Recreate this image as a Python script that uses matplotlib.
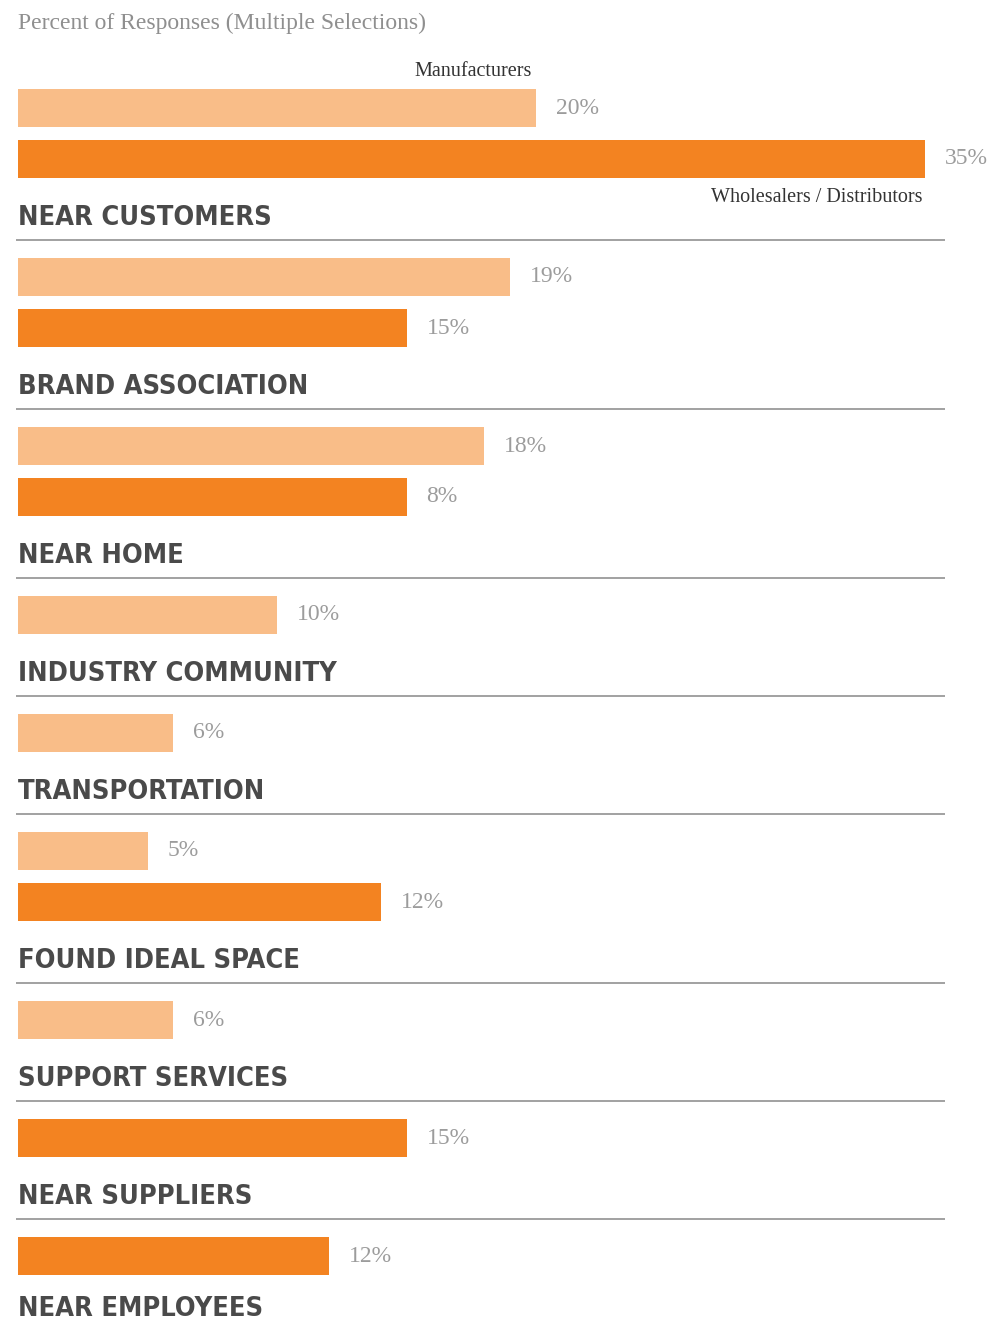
import matplotlib
matplotlib.use('Agg')
import matplotlib.pyplot as plt
from matplotlib import font_manager

# categorie (dall'alto verso il basso)
categorie = ['NEAR CUSTOMERS', 'BRAND ASSOCIATION', 'NEAR HOME', 'INDUSTRY COMMUNITY',
             'TRANSPORTATION', 'FOUND IDEAL SPACE', 'SUPPORT SERVICES', 'NEAR SUPPLIERS',
             'NEAR EMPLOYEES']

# lunghezze delle barre come disegnate (None = barra assente)
manifatturieri = [20, 19, 18, 10, 6, 5, 6, None, None]
grossisti = [35, 15, 15, None, None, 14, None, 15, 12]

# etichette stampate accanto alle barre
etich_manif = ['20%', '19%', '18%', '10%', '6%', '5%', '6%', None, None]
etich_gross = ['35%', '15%', '8%', None, None, '12%', None, '15%', '12%']

titolo = 'Percent of Responses (Multiple Selections)'
nome_manif = 'Manufacturers'
nome_gross = 'Wholesalers / Distributors'

col_chiaro = '#F9BD88'
col_scuro = '#F38321'
col_testo = '#4a4a4a'
col_grigio = '#9c9c9c'

W, H = 988, 1325
px_per_pct = 25.9
margine_sx = 18

# font stretto per le categorie, se presente
stretto = None
for f in font_manager.fontManager.ttflist:
    if 'Condensed' in f.fname and 'Bold' in f.fname and 'Oblique' not in f.fname:
        stretto = f.fname
        break
if stretto:
    prop_cat = font_manager.FontProperties(fname=stretto, size=19.5)
else:
    prop_cat = font_manager.FontProperties(family='DejaVu Sans', weight='bold',
                                           stretch='condensed', size=17)

fig = plt.figure(figsize=(W / 100, H / 100), dpi=100)
ax = fig.add_axes([0, 0, 1, 1])
ax.set_xlim(-margine_sx / px_per_pct, (W - margine_sx) / px_per_pct)
ax.set_ylim(H, 0)
ax.axis('off')

serif = ['Liberation Serif', 'DejaVu Serif']

ax.text(0, 23, titolo, fontsize=17, color='#8f8f8f', family=serif,
        ha='left', va='center')

# layout verticale (pixel)
y = 89
alt_barra = 38
passo = 51
for i, cat in enumerate(categorie):
    barre = []
    if manifatturieri[i] is not None:
        barre.append((manifatturieri[i], etich_manif[i], col_chiaro, 'm'))
    if grossisti[i] is not None:
        barre.append((grossisti[i], etich_gross[i], col_scuro, 'g'))
    for j, (val, lab, col, tipo) in enumerate(barre):
        top = y + j * passo
        ax.barh(top + alt_barra / 2, val, height=alt_barra, left=0, color=col)
        ax.text(val + 20 / px_per_pct, top + alt_barra / 2, lab, fontsize=17,
                color=col_grigio, family=serif, ha='left', va='center')
        if i == 0 and tipo == 'm':
            ax.text(val - 4 / px_per_pct, top - 18, nome_manif, fontsize=14.5,
                    color='#333333', family=serif, ha='right', va='center')
        if i == 0 and tipo == 'g':
            ax.text(val - 2 / px_per_pct, top + alt_barra + 19, nome_gross, fontsize=14.5,
                    color='#333333', family=serif, ha='right', va='center')
    fondo = y + (len(barre) - 1) * passo + alt_barra
    y_lab = min(fondo + 40, H - 16)
    ax.text(0, y_lab, cat, fontproperties=prop_cat, color=col_testo,
            ha='left', va='center')
    y_linea = y_lab + 22
    if i < len(categorie) - 1:
        ax.plot([-2 / px_per_pct, 927 / px_per_pct], [y_linea, y_linea],
                color='#9a9a9a', lw=1.3, solid_capstyle='butt')
    y = y_linea + 18

fig.savefig('out.png', dpi=100, facecolor='white')
